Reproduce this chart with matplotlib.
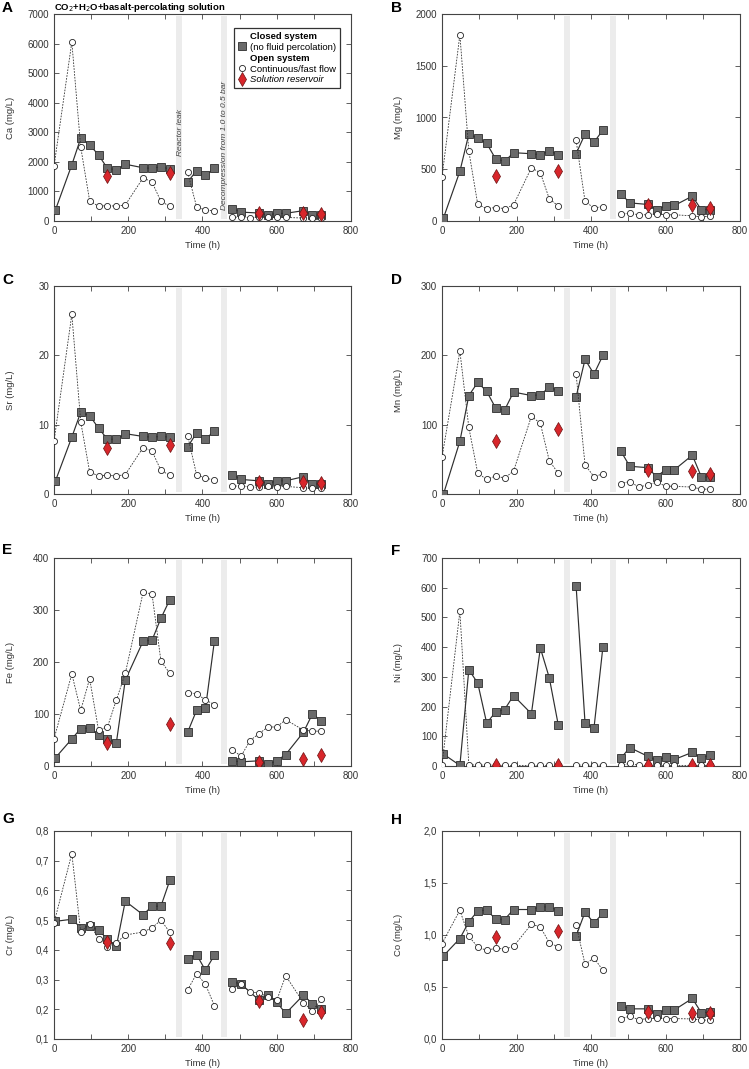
import numpy as np
import matplotlib
matplotlib.use('Agg')
import matplotlib.pyplot as plt
from matplotlib.lines import Line2D
from matplotlib.ticker import MultipleLocator, FuncFormatter

plt.rcParams['font.family'] = ['Liberation Sans', 'DejaVu Sans']

# Sampling times (h)
t_closed = [4, 48, 72, 96, 120, 144, 168, 192, 240, 264, 288, 312, 360, 384, 408, 432,
            480, 504, 552, 576, 600, 624, 672, 696, 720]
t_open = [0, 48, 72, 96, 120, 144, 168, 192, 240, 264, 288, 312, 360, 384, 408, 432,
          480, 504, 528, 552, 576, 600, 624, 672, 696, 720]
t_res = [144, 312, 552, 672, 720]

# Ca
ca_closed = [380, 1900, 2800, 2580, 2230, 1780, 1730, 1920, 1800, 1780, 1840, 1750, 1320, 1700, 1540, 1780,
             420, 300, 270, 200, 260, 260, 350, 200, 200]
ca_open = [1850, 6050, 2500, 680, 500, 520, 500, 540, 1460, 1320, 660, 500, 1650, 480, 370, 340,
           120, 140, 110, 130, 130, 120, 120, 100, 90, 90]
ca_res = [1520, 1640, 270, 280, 250]

# Mg
mg_closed = [30, 480, 840, 800, 750, 600, 575, 660, 650, 640, 680, 640, 650, 840, 760, 880,
             265, 175, 160, 110, 145, 150, 240, 110, 110]
mg_open = [425, 1800, 675, 160, 120, 130, 120, 155, 515, 465, 215, 145, 780, 190, 125, 140,
           65, 75, 60, 60, 70, 60, 60, 50, 40, 45]
mg_res = [435, 485, 150, 150, 125]

# Sr
sr_closed = [1.9, 8.2, 11.8, 11.3, 9.5, 7.9, 7.9, 8.7, 8.3, 8.2, 8.3, 8.2, 6.8, 8.8, 7.9, 9.1,
             2.8, 2.1, 1.9, 1.5, 1.9, 1.9, 2.5, 1.4, 1.5]
sr_open = [7.6, 25.9, 10.4, 3.2, 2.6, 2.7, 2.6, 2.8, 6.7, 6.2, 3.4, 2.7, 8.4, 2.8, 2.3, 2.0,
           1.1, 1.2, 1.0, 1.0, 1.1, 1.0, 1.1, 0.9, 0.8, 0.8]
sr_res = [6.6, 7.1, 1.8, 1.8, 1.6]

# Mn
mn_closed = [0, 76, 142, 161, 148, 124, 121, 147, 142, 143, 154, 149, 140, 194, 173, 200,
             62, 40, 38, 25, 35, 35, 56, 25, 24]
mn_open = [53, 206, 96, 30, 21, 26, 23, 33, 112, 102, 48, 30, 173, 42, 25, 29,
           15, 18, 10, 13, 17, 11.5, 11, 10, 7, 7]
mn_res = [77, 94, 35, 33, 29]

# Fe
fe_closed = [16, 52, 72, 73, 59, 52, 45, 165, 240, 242, 284, 320, 65, 107, 111, 240,
             10, 8, 10, 3, 10, 22, 65, 100, 87]
fe_open = [52, 177, 107, 168, 69, 75, 127, 178, 334, 331, 202, 178, 141, 139, 127, 118,
           31, 19, 49, 62, 75, 75, 89, 69, 67, 67]
fe_res = [44, 80, 8, 13, 22]

# Ni
ni_closed = [40, 2, 324, 279, 144, 182, 190, 237, 176, 397, 297, 139, 606, 145, 128, 401,
             26, 62, 33, 19, 29, 22, 46, 27, 37]
ni_open = [3, 521, 5, 2, 4, 2, 2, 2, 2, 2, 2, 2, 3, 3, 2, 3,
           2, 9, 2, 2, 2, 2, 2, 2, 2, 2]
ni_res = [3, 3, 3, 3, 3]

# Cr
cr_closed = [0.496, 0.503, 0.475, 0.48, 0.466, 0.436, 0.412, 0.564, 0.518, 0.547, 0.547, 0.634,
             0.370, 0.384, 0.331, 0.382, 0.293, 0.285, 0.231, 0.249, 0.224, 0.186, 0.248, 0.218, 0.200]
cr_open = [0.49, 0.724, 0.46, 0.488, 0.437, 0.411, 0.424, 0.45, 0.46, 0.474, 0.5, 0.459,
           0.265, 0.32, 0.284, 0.212, 0.269, 0.285, 0.258, 0.255, 0.242, 0.23, 0.313, 0.222, 0.195, 0.234]
cr_res = [0.425, 0.422, 0.227, 0.164, 0.19]

# Co
co_closed = [0.80, 0.966, 1.126, 1.232, 1.238, 1.155, 1.149, 1.245, 1.245, 1.27, 1.27, 1.235,
             0.99, 1.22, 1.115, 1.21, 0.32, 0.29, 0.29, 0.245, 0.28, 0.28, 0.39, 0.254, 0.257]
co_open = [0.918, 1.238, 0.986, 0.886, 0.851, 0.874, 0.864, 0.89, 1.104, 1.078, 0.925, 0.886,
           1.10, 0.717, 0.78, 0.66, 0.196, 0.219, 0.186, 0.196, 0.2, 0.196, 0.196, 0.193, 0.183, 0.18]
co_res = [0.982, 1.037, 0.264, 0.248, 0.248]

SQ_FACE = '#6a6a6a'
SQ_EDGE = '#2e2e2e'
RED = '#d8262b'
BAND = '#ececec'

W, H = 749, 1069
fig = plt.figure(figsize=(W / 100, H / 100), dpi=100)


def px_axes(x0, y0, x1, y1):
    # axes from pixel box (top-left origin)
    return fig.add_axes([x0 / W, 1 - y1 / H, (x1 - x0) / W, (y1 - y0) / H])


def segments(t, v):
    t = np.asarray(t)
    v = np.asarray(v)
    for lo, hi in [(-1, 330), (330, 460), (460, 900)]:
        m = (t > lo) & (t < hi)
        yield t[m], v[m]


def comma(v, pos):
    return f'{v:.1f}'.replace('.', ',')


def panel(box, letter, lpos, closed, opn, res, ylabel, ymin, ymax, ystep, use_comma=False):
    ax = px_axes(*box)
    ax.axvspan(328, 344, ymin=0.012, ymax=0.99, color=BAND, lw=0, zorder=0)
    ax.axvspan(450, 466, ymin=0.012, ymax=0.99, color=BAND, lw=0, zorder=0)

    for tt, vv in segments(t_closed, closed):
        ax.plot(tt, vv, '-', color='#2e2e2e', lw=0.85, zorder=2)
    ax.plot(t_closed, closed, 's', ms=6.3, mfc=SQ_FACE, mec=SQ_EDGE, mew=0.6, zorder=3)

    for tt, vv in segments(t_open, opn):
        ax.plot(tt, vv, color='#333333', lw=0.6, ls=(0, (2, 1.5)), zorder=4)
    ax.plot(t_open, opn, 'o', ms=4.4, mfc='white', mec='#222222', mew=0.6, zorder=5)

    ax.plot(t_res, res, 'd', ms=7, mfc=RED, mec='#6b1010', mew=0.5, zorder=6)

    ax.set_xlim(0, 800)
    ax.set_ylim(ymin, ymax)
    ax.xaxis.set_major_locator(MultipleLocator(200))
    ax.xaxis.set_minor_locator(MultipleLocator(100))
    ax.yaxis.set_major_locator(MultipleLocator(ystep))
    if use_comma:
        ax.yaxis.set_major_formatter(FuncFormatter(comma))
    ax.tick_params(which='both', direction='in', top=True, right=True, length=3.5,
                   width=0.6, color='#444444', labelsize=7, labelcolor='#333333')
    ax.tick_params(axis='x', pad=3.5)
    for s in ax.spines.values():
        s.set_linewidth(0.8)
        s.set_color('#444444')

    ax.set_xlabel('Time (h)', fontsize=6.8, color='#333333')
    ax.xaxis.set_label_coords(0.5, -0.095)
    ax.set_ylabel(ylabel, fontsize=6.8, color='#333333')
    ax.yaxis.set_label_coords(-0.132, 0.5)

    fig.text(lpos[0] / W, 1 - lpos[1] / H, letter, fontsize=11, fontweight='bold',
             ha='left', va='center')
    return ax


L = (54, 351)
R = (442, 740)
rows = [(14, 221), (286, 494), (558, 766), (831, 1039)]

axA = panel((L[0], rows[0][0], L[1], rows[0][1]), 'A', (2, 8), ca_closed, ca_open, ca_res,
            'Ca (mg/L)', 0, 7000, 1000)
panel((R[0], rows[0][0], R[1], rows[0][1]), 'B', (391, 8), mg_closed, mg_open, mg_res,
      'Mg (mg/L)', 0, 2000, 500)
panel((L[0], rows[1][0], L[1], rows[1][1]), 'C', (2, 280), sr_closed, sr_open, sr_res,
      'Sr (mg/L)', 0, 30, 10)
panel((R[0], rows[1][0], R[1], rows[1][1]), 'D', (391, 280), mn_closed, mn_open, mn_res,
      'Mn (mg/L)', 0, 300, 100)
panel((L[0], rows[2][0], L[1], rows[2][1]), 'E', (2, 550), fe_closed, fe_open, fe_res,
      'Fe (mg/L)', 0, 400, 100)
panel((R[0], rows[2][0], R[1], rows[2][1]), 'F', (391, 551), ni_closed, ni_open, ni_res,
      'Ni (mg/L)', 0, 700, 100)
panel((L[0], rows[3][0], L[1], rows[3][1]), 'G', (2, 819), cr_closed, cr_open, cr_res,
      'Cr (mg/L)', 0.1, 0.8, 0.1, use_comma=True)
panel((R[0], rows[3][0], R[1], rows[3][1]), 'H', (391, 820), co_closed, co_open, co_res,
      'Co (mg/L)', 0.0, 2.0, 0.5, use_comma=True)

# Title and annotations for panel A
fig.text(54 / W, 1 - 7 / H, r'CO$_2$+H$_2$O+basalt-percolating solution', fontsize=6.8,
         fontweight='bold', ha='left', va='center')
axA.text(340, 3000, 'Reactor leak', rotation=90, style='italic', fontsize=6,
         color='#444444', ha='center', va='center')
axA.text(459, 2550, 'Decompression from 1.0 to 0.5 bar', rotation=90, style='italic',
         fontsize=6, color='#444444', ha='center', va='center')

# Legend
handles = [
    Line2D([], [], ls='none'),
    Line2D([], [], ls='none', marker='s', ms=6.3, mfc=SQ_FACE, mec=SQ_EDGE, mew=0.6),
    Line2D([], [], ls='none'),
    Line2D([], [], ls='none', marker='o', ms=4.4, mfc='white', mec='#222222', mew=0.6),
    Line2D([], [], ls='none', marker='d', ms=7, mfc=RED, mec='#6b1010', mew=0.5),
]
labels = ['Closed system', '(no fluid percolation)', 'Open system',
          'Continuous/fast flow', 'Solution reservoir']
leg = axA.legend(handles, labels, loc='upper right', bbox_to_anchor=(0.962, 0.932),
                 fontsize=6.8, frameon=True, fancybox=False, edgecolor='black',
                 borderpad=0.4, labelspacing=0.2, handlelength=0.9, handletextpad=0.4,
                 borderaxespad=0)
leg.get_frame().set_linewidth(0.9)
txts = leg.get_texts()
txts[0].set_fontweight('bold')
txts[2].set_fontweight('bold')
txts[4].set_style('italic')

fig.savefig('out.png', dpi=100)
